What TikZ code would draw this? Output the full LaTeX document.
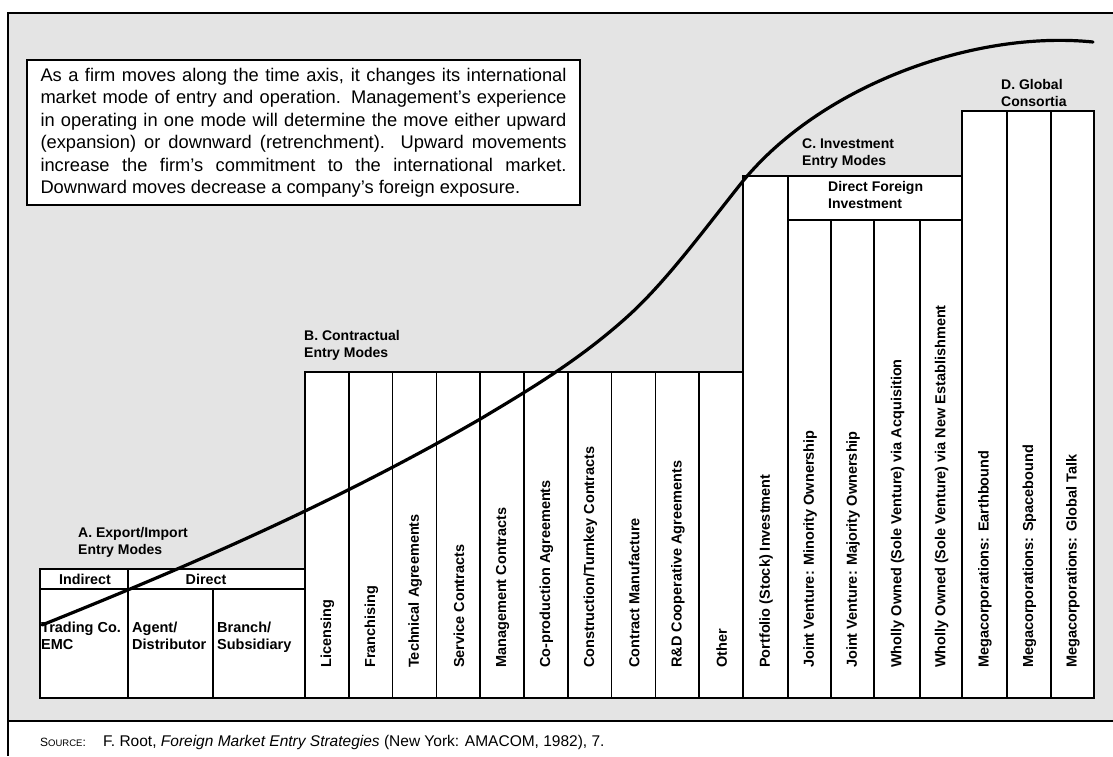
\documentclass[tikz,border=0pt]{standalone}
\usepackage{fontspec}
\setmainfont{Liberation Sans}
\definecolor{bggray}{HTML}{E4E4E4}
\begin{document}
\begin{tikzpicture}[x=1pt,y=-1pt,
  cell/.style={draw=black,line width=1.5pt,fill=white},
  lab/.style={font=\bfseries\fontsize{14}{17}\selectfont,align=left,inner sep=0pt},
  vtext/.style={font=\bfseries\fontsize{14.5}{16}\selectfont,rotate=90,anchor=west,inner sep=0pt},
  celltext/.style={font=\bfseries\fontsize{14.5}{16.5}\selectfont,align=left,inner sep=0pt,anchor=north west}]
\useasboundingbox (0,0) rectangle (1113,756);
% background
\fill[white] (0,0) rectangle (1113,756);
\fill[bggray] (8,13) rectangle (1113,721);
\draw[line width=2pt] (1120,13) -- (8,13) -- (8,756);
\draw[line width=2pt] (8,721) -- (1120,721);
% text box
\draw[line width=2pt,fill=white] (27,60) rectangle (580,205);
\node[font=\fontsize{18.3}{22.5}\selectfont,text width=526pt,align=justify,inner sep=0pt] (intro) at (303.5,133)
 {As a firm moves along the time axis, it changes its international\linebreak
  market mode of entry and operation. Management's experience\linebreak
  in operating in one mode will determine the move either upward\linebreak
  (expansion) or downward (retrenchment). Upward movements\linebreak
  increase the firm's commitment to the international market.\linebreak
  Downward moves decrease a company's foreign exposure.};
% A section
\draw[cell] (40,569) rectangle (128,589);
\draw[cell] (128,569) rectangle (305,589);
\draw[cell] (40,589) rectangle (128,698);
\draw[cell] (128,589) rectangle (213,698);
\draw[cell] (213,589) rectangle (305,698);
\node[lab] (alab) at (78,527) [anchor=north west] {A. Export/Import\\Entry Modes};
\node[font=\bfseries\fontsize{14.3}{16}\selectfont] (ind) at (85,579) {Indirect};
\node[font=\bfseries\fontsize{14.3}{16}\selectfont] (dir) at (206,579) {Direct};
\node[celltext] (a1) at (41,622) {Trading Co.\\EMC};
\node[celltext] (a2) at (132,622) {Agent/\\Distributor};
\node[celltext] (a3) at (217,622) {Branch/\\Subsidiary};
% B section
\node[lab] (blab) at (304,330) [anchor=north west] {B. Contractual\\Entry Modes};
\foreach \i in {0,...,9} {
  \draw[cell] ({305+43.8*\i},372) rectangle ({305+43.8*(\i+1)},698);
}
\foreach \t [count=\i from 0] in {Licensing,Franchising,Technical Agreements,Service Contracts,Management Contracts,Co-production Agreements,Construction/Turnkey Contracts,Contract Manufacture,R\&D Cooperative Agreements,Other} {
  \node[vtext] (b\i) at ({305+43.8*\i+22.5},668) {\t};
}
% C section
\node[lab] (clab) at (802,139) [anchor=north west] {C. Investment\\Entry Modes};
\draw[cell] (743,176) rectangle (788,698);
\draw[cell] (788,176) rectangle (962,220);
\draw[cell] (788,220) rectangle (831,698);
\draw[cell] (831,220) rectangle (874,698);
\draw[cell] (874,220) rectangle (920,698);
\draw[cell] (920,220) rectangle (962,698);
\node[font=\bfseries\fontsize{14}{17}\selectfont,align=left,inner sep=0pt,anchor=north west] (dfi) at (828,181) {Direct Foreign\\Investment};
\node[vtext] (c0) at (766,668) {Portfolio (Stock) Investment};
\node[vtext] (c1) at (810,668) {Joint Venture: Minority Ownership};
\node[vtext] (c2) at (853,668) {Joint Venture: Majority Ownership};
\node[vtext] (c3) at (897.5,668) {Wholly Owned (Sole Venture) via Acquisition};
\node[vtext] (c4) at (941.5,668) {Wholly Owned (Sole Venture) via New Establishment};
% D section
\node[lab] (dlab) at (1001,79) [anchor=north west] {D. Global\\Consortia};
\draw[cell] (962,111) rectangle (1007,698);
\draw[cell] (1007,111) rectangle (1051,698);
\draw[cell] (1051,111) rectangle (1094,698);
\node[vtext] (d0) at (985,668) {Megacorporations: Earthbound};
\node[vtext] (d1) at (1029.5,668) {Megacorporations: Spacebound};
\node[vtext] (d2) at (1073,668) {Megacorporations: Global Talk};
% curve
\draw[line width=3.2pt,line cap=round]
  (42,625) .. controls (189,566) and (335,503) .. (482,418)
  .. controls (530,389.2) and (579,360.2) .. (627,317)
  .. controls (666,282) and (704,229.75) .. (743,181)
  .. controls (823,84) and (976,30) .. (1093,42);
% source
\node[font=\fontsize{12}{14}\selectfont,anchor=base west,inner sep=0pt] (src) at (40,746) {S{\fontsize{9.5}{12}\selectfont OURCE}:};
\node[font=\fontsize{15.5}{17}\selectfont,anchor=base west,inner sep=0pt] (ref) at (103,746) {F. Root, \textit{Foreign Market Entry Strategies} (New York: AMACOM, 1982), 7.};
\end{tikzpicture}
\end{document}
